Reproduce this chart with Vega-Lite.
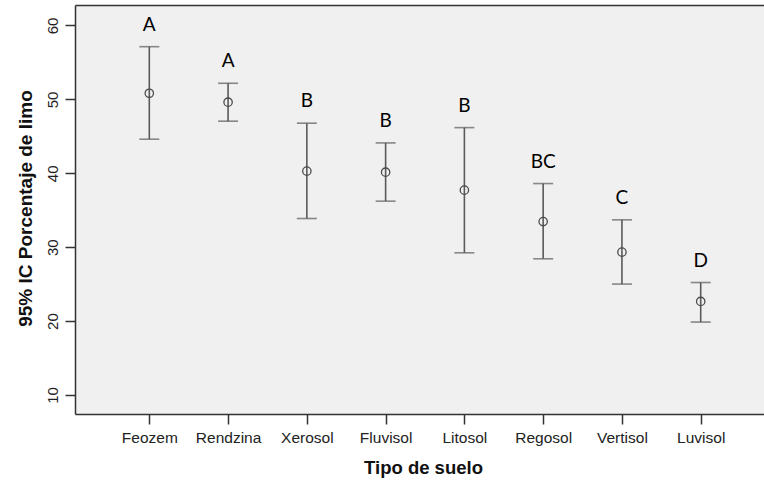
{
  "$schema": "https://vega.github.io/schema/vega-lite/v6.json",
  "autosize": {"type": "none"},
  "padding": {"left": 75, "top": 5, "right": 0, "bottom": 68},
  "width": 689,
  "height": 409,
  "background": "white",
  "config": {
    "view": {"fill": "#f0f0f0", "stroke": null},
    "axis": {"domainColor": "#333333", "domainWidth": 1.5, "tickColor": "#333333", "tickWidth": 1.5, "tickSize": 10, "grid": false,
      "labelFont": "Liberation Sans", "labelColor": "#222222", "titleFont": "Liberation Sans", "titleColor": "#111111", "titleFontWeight": "bold"}
  },
  "data": {"values": [
    {"suelo": "Feozem", "low": 44.61, "mean": 50.83, "high": 57.13, "grupo": "A"},
    {"suelo": "Rendzina", "low": 47.05, "mean": 49.62, "high": 52.18, "grupo": "A"},
    {"suelo": "Xerosol", "low": 33.88, "mean": 40.29, "high": 46.78, "grupo": "B"},
    {"suelo": "Fluvisol", "low": 36.23, "mean": 40.15, "high": 44.11, "grupo": "B"},
    {"suelo": "Litosol", "low": 29.24, "mean": 37.72, "high": 46.18, "grupo": "B"},
    {"suelo": "Regosol", "low": 28.43, "mean": 33.47, "high": 38.61, "grupo": "BC"},
    {"suelo": "Vertisol", "low": 25.01, "mean": 29.33, "high": 33.70, "grupo": "C"},
    {"suelo": "Luvisol", "low": 19.87, "mean": 22.66, "high": 25.22, "grupo": "D"}
  ]},
  "resolve": {"axis": {"x": "independent"}},
  "layer": [
    {
      "mark": {"type": "rule", "color": "#5a5a5a", "strokeWidth": 1.6},
      "encoding": {
        "x": {"field": "suelo", "type": "nominal", "sort": null,
          "scale": {"type": "point", "padding": 0.8734, "align": 0.54},
          "axis": {"orient": "bottom", "labelAngle": 0, "labelFontSize": 15.5, "labelPadding": 6, "labelBaseline": "top",
            "title": "Tipo de suelo", "titleFontSize": 18.5, "titleBaseline": "middle", "titleX": 348, "titleY": 53}},
        "y": {"field": "low", "type": "quantitative",
          "scale": {"domain": [7.43, 62.77], "nice": false, "zero": false},
          "axis": {"values": [10, 20, 30, 40, 50, 60], "labelAngle": 270, "labelAlign": "center", "labelBaseline": "bottom", "labelFontSize": 15, "labelPadding": 4.5,
            "title": "95% IC Porcentaje de limo", "titleFontSize": 19, "titleAngle": 270, "titleAlign": "center", "titleBaseline": "middle", "titleX": -50, "titleY": 203}},
        "y2": {"field": "high"}
      }
    },
    {
      "mark": {"type": "tick", "color": "#5a5a5a", "size": 20, "thickness": 1.6, "orient": "horizontal"},
      "encoding": {
        "x": {"field": "suelo", "type": "nominal", "sort": null, "axis": null},
        "y": {"field": "low", "type": "quantitative"}
      }
    },
    {
      "mark": {"type": "tick", "color": "#5a5a5a", "size": 20, "thickness": 1.6, "orient": "horizontal"},
      "encoding": {
        "x": {"field": "suelo", "type": "nominal", "sort": null, "axis": null},
        "y": {"field": "high", "type": "quantitative"}
      }
    },
    {
      "mark": {"type": "point", "filled": false, "stroke": "#4a4a4a", "strokeWidth": 1.3, "size": 70, "opacity": 1},
      "encoding": {
        "x": {"field": "suelo", "type": "nominal", "sort": null, "axis": null},
        "y": {"field": "mean", "type": "quantitative"}
      }
    },
    {
      "mark": {"type": "text", "font": "Lato", "fontSize": 19, "color": "#000000", "baseline": "middle", "align": "center", "dy": -22},
      "encoding": {
        "x": {"field": "suelo", "type": "nominal", "sort": null,
          "axis": {"orient": "top", "labels": false, "labelOpacity": 0, "labelFontSize": 0, "ticks": false, "tickOpacity": 0, "title": null, "domain": true}},
        "y": {"field": "high", "type": "quantitative"},
        "text": {"field": "grupo"}
      }
    }
  ]
}
